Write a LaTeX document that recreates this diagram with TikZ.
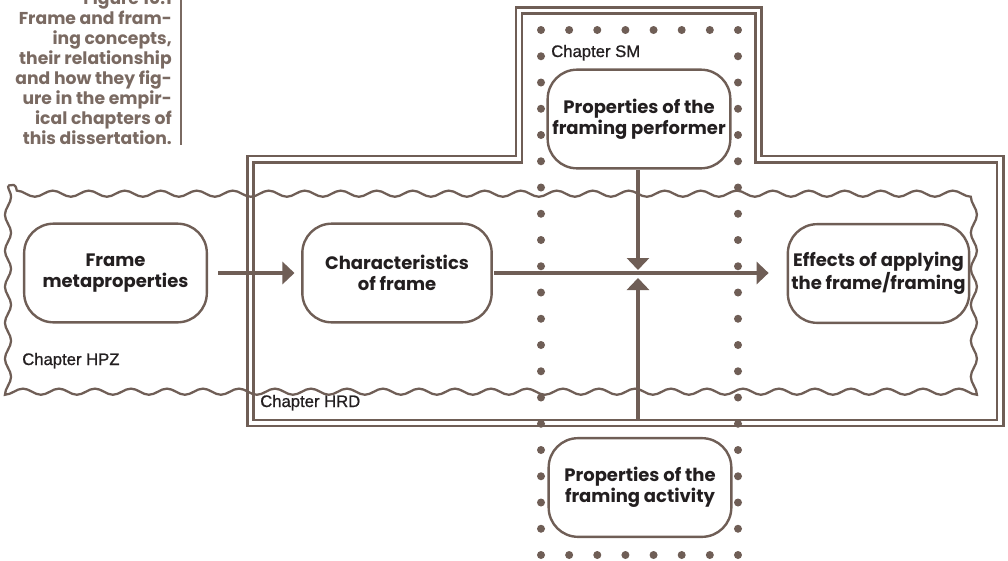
\documentclass[tikz,border=0pt]{standalone}
\usepackage{fontspec}
\setmainfont{Poppins}
\newfontfamily\labelfont[FakeBold=0.9]{Liberation Sans}
\usetikzlibrary{arrows.meta,decorations.pathmorphing}
\definecolor{linebrown}{RGB}{111,94,86}
\definecolor{captionbrown}{RGB}{122,106,98}
\definecolor{inkdark}{RGB}{35,31,32}
\tikzset{
  concept/.style={draw=linebrown, line width=1.8pt, fill=white, rounded corners=22pt,
    align=center, text=inkdark, inner sep=0pt,
    font=\fontsize{13.5}{16}\selectfont\bfseries},
  flow/.style={draw=linebrown, line width=2.6pt,
    -{Triangle[length=9pt,width=16.5pt]}},
  chapterlabel/.style={anchor=base west, inner sep=0pt, text=inkdark,
    font=\labelfont\fontsize{12.5}{14}\selectfont},
  captionline/.style={anchor=base east, inner sep=0pt, text=captionbrown,
    font=\fontsize{12.9}{15}\selectfont\bfseries},
  chapterframe/.style={draw=linebrown, line width=1.8pt, double=white,
    double distance=2.9pt},
  wavy/.style={draw=linebrown, line width=1.7pt, decorate,
    decoration={snake, segment length=27pt, amplitude=2.3pt}},
  dot/.style={fill=linebrown},
}
\begin{document}
\begin{tikzpicture}[x=0.75pt, y=-0.75pt]
\useasboundingbox (0,0) rectangle (1008,561);

% caption in the margin
\foreach \txt [count=\i from 0] in {Figure 10.1, Frame and fram-, {ing concepts,},
    their relationship, and how they fig-, ure in the empir-,
    ical chapters of, this dissertation.}
  \node[captionline] (cap\i) at (172, 4+20*\i) {\txt};
\draw[captionbrown, line width=2pt] (181,-5) -- (181,145);

% Chapter HRD / SM double frame
\draw[chapterframe] (250.5,159.2) -- (519,159.2) -- (519,10.5) -- (758.5,10.5)
  -- (758.5,159.2) -- (1000.3,159.2) -- (1000.3,423) -- (250.5,423) -- cycle;

% Chapter HPZ wavy region
\draw[wavy] (8,185.5) rectangle (988,378);

% Chapter SM dotted region
\foreach \k in {0,...,7} {
  \fill[dot] (541+28.14*\k,30) circle (3pt);
  \fill[dot] (541+28.14*\k,555) circle (3pt);
}
\foreach \k in {1,...,19} {
  \fill[dot] (541,30+26.25*\k) circle (3pt);
  \fill[dot] (738,30+26.25*\k) circle (3pt);
}

% chapter labels
\node[chapterlabel] (lblSM) at (551,57) {Chapter SM};
\node[chapterlabel] (lblHPZ) at (22,365) {Chapter HPZ};
\node[chapterlabel] (lblHRD) at (260,407) {Chapter HRD};

% concepts
\node[concept, minimum width=137pt, minimum height=74pt] (meta) at (115.5,273)
  {Frame\\metaproperties};
\node[concept, minimum width=142pt, minimum height=74pt] (chars) at (397,273)
  {Characteristics\\of frame};
\node[concept, minimum width=136pt, minimum height=74pt] (effects) at (878.5,273.5)
  {Effects of applying\\the frame/framing};
\node[concept, minimum width=137pt, minimum height=74pt] (performer) at (639,119)
  {Properties of the\\framing performer};
\node[concept, minimum width=137pt, minimum height=74pt] (activity) at (640,487.5)
  {Properties of the\\framing activity};

% connectors
\coordinate (downtip) at (638,270);
\coordinate (uptip) at (638,278);
\coordinate (activityfoot) at (638,420);
\draw[flow, shorten <=7.5pt, shorten >=5pt] (meta.east) -- (chars.west);
\draw[flow, shorten <=1pt, shorten >=13.5pt] (chars.east) -- (chars.east -| effects.west);
\draw[flow] (performer.south -| downtip) -- (downtip);
\draw[flow] (activityfoot) -- (uptip);
\end{tikzpicture}
\end{document}
